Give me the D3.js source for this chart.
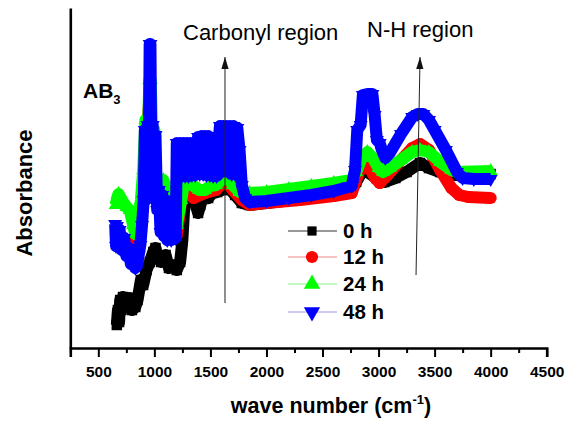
<!DOCTYPE html>
<html><head><meta charset="utf-8">
<script src="https://cdn.jsdelivr.net/npm/d3@7/dist/d3.min.js"></script>
<style>
body{margin:0;background:#fff}
svg{display:block}
text{font-family:"Liberation Sans",Arial,Helvetica,sans-serif}
</style>
</head><body>
<svg id="chart" width="570" height="423"></svg>
<script>
// ---------------- data ----------------
const seriesNames = ["0 h", "12 h", "24 h", "48 h"];
const xMajorTicks = [500, 1000, 1500, 2000, 2500, 3000, 3500, 4000, 4500];
const xMinorTicks = [250, 750, 1250, 1750, 2250, 2750, 3250, 3750, 4250];

const wn0h = [665,675,685,695,705,720,750,780,800,830,850,880,900,930,960,990,1010,1030,1060,1100,1130,1160,1200,1230,1250,1270,1290,1330,1370,1390,1410,1440,1480,1520,1560,1600,1640,1680,1720,1780,1850,2000,2300,2600,2760,2800,2850,2900,2980,3050,3150,3250,3370,3450,3550,3680,4000];
const abs0h = [0.23,0.38,0.26,0.48,0.38,0.51,0.43,0.50,0.38,0.41,0.48,0.68,0.63,0.78,0.86,0.96,1.00,0.90,0.86,0.93,0.80,0.83,0.78,0.86,1.08,1.48,1.58,1.53,1.43,1.35,1.43,1.53,1.50,1.55,1.56,1.58,1.60,1.58,1.53,1.45,1.43,1.45,1.49,1.54,1.58,1.66,1.76,1.76,1.70,1.66,1.70,1.76,1.85,1.80,1.76,1.73,1.74];

const wn12h = [670,685,700,750,800,830,860,900,930,960,980,1010,1050,1100,1150,1200,1240,1270,1350,1450,1550,1630,1700,1780,1850,2000,2300,2600,2760,2800,2840,2880,2920,2970,3010,3080,3200,3300,3370,3450,3550,3650,3720,3800,4000];
const abs12h = [1.16,1.10,1.08,0.98,0.90,1.08,0.98,1.48,2.08,2.58,1.98,1.68,1.48,1.43,1.18,1.13,1.48,1.58,1.50,1.55,1.58,1.68,1.58,1.48,1.43,1.45,1.48,1.52,1.55,1.68,1.80,1.86,1.80,1.70,1.65,1.73,1.88,2.00,2.04,1.98,1.78,1.60,1.53,1.51,1.50];

const wn24h = [655,668,680,710,750,780,810,830,850,880,900,920,940,955,968,980,1000,1015,1040,1080,1110,1150,1200,1240,1270,1300,1350,1400,1450,1500,1550,1600,1630,1660,1700,1760,1850,2000,2200,2400,2600,2760,2800,2850,2900,2950,3000,3040,3100,3200,3300,3370,3450,3550,3650,3700,4000];
const abs24h = [1.43,1.50,1.54,1.48,1.41,1.38,1.23,1.14,1.23,1.48,1.78,2.28,1.98,2.68,2.68,2.08,2.18,1.48,1.58,1.68,1.58,1.33,1.23,1.48,1.68,1.65,1.62,1.58,1.58,1.62,1.63,1.68,1.76,1.70,1.63,1.56,1.55,1.56,1.59,1.62,1.65,1.68,1.76,1.90,1.96,1.90,1.80,1.76,1.80,1.88,1.96,1.98,1.96,1.86,1.78,1.76,1.77];

const wn48h = [650,658,666,674,690,710,730,750,770,790,810,830,845,860,875,890,905,915,925,940,950,958,965,972,985,998,1010,1025,1040,1055,1070,1085,1100,1115,1130,1150,1170,1190,1200,1215,1230,1245,1260,1275,1290,1305,1320,1335,1350,1365,1380,1390,1405,1420,1435,1450,1465,1480,1495,1510,1525,1540,1555,1570,1585,1600,1615,1630,1645,1660,1675,1690,1705,1720,1740,1760,1780,1810,1850,2000,2200,2400,2600,2760,2790,2810,2840,2860,2900,2945,2965,2985,3010,3030,3060,3100,3200,3300,3350,3400,3450,3500,3600,3700,3750,3850,4000];
const abs48h = [1.24,1.02,1.22,1.04,1.18,0.98,1.10,0.92,1.00,0.84,0.92,0.80,0.82,0.93,1.03,1.23,1.48,2.18,1.48,2.23,1.88,3.04,3.04,1.98,2.23,1.58,2.13,1.38,1.58,1.16,1.53,1.12,1.48,1.08,1.43,1.08,1.33,1.10,2.05,1.74,2.05,1.72,2.05,1.72,2.05,1.72,2.05,1.73,2.05,1.73,2.05,2.11,1.74,2.12,1.74,2.12,1.73,2.12,1.73,2.08,1.72,2.04,1.72,2.04,2.22,1.76,2.22,1.80,2.22,1.76,2.22,1.74,2.22,1.74,2.20,1.98,1.63,1.50,1.46,1.47,1.50,1.53,1.57,1.62,1.78,2.18,2.23,2.53,2.54,2.54,2.33,2.08,2.05,1.98,1.90,1.95,2.14,2.31,2.34,2.34,2.28,2.18,1.98,1.76,1.70,1.69,1.69];

const arrowWavenumbers = [1630, 3370];
const arrowBottoms = [0.45, 0.73];
const annotationLabels = ["Carbonyl region", "N-H region"];

// ---------------- styles ----------------
const colors = ["#000000", "#ff0000", "#00ff00", "#0000ff"];
const legendLineColors = ["#333333", "#ee8888", "#88ee88", "#9999ee"];
const symbolTypes = [d3.symbolSquare, d3.symbolCircle, d3.symbolTriangle, d3.symbolTriangle];
const symbolRot = [0, 0, 0, 180];
const symbolSizes = [110, 115, 85, 85];

const svg = d3.select("#chart");
const x = d3.scaleLinear().domain([250, 4500]).range([70.3, 546.7]);
const y = d3.scaleLinear().domain([0, 3.4]).range([348, 8]);

const allSeries = [
  {wn: wn0h, ab: abs0h},
  {wn: wn12h, ab: abs12h},
  {wn: wn24h, ab: abs24h},
  {wn: wn48h, ab: abs48h}
];

const line = d3.line().x(d => x(d[0])).y(d => y(d[1]));

allSeries.forEach((s, i) => {
  const pts = s.wn.map((w, k) => [w, s.ab[k]]);
  const g = svg.append("g");
  g.append("path").datum(pts)
    .attr("d", line)
    .attr("fill", "none")
    .attr("stroke", colors[i])
    .attr("stroke-width", 12)
    .attr("stroke-linejoin", "round")
    .attr("stroke-linecap", "butt");
  const sym = d3.symbol().type(symbolTypes[i]).size(symbolSizes[i]);
  g.selectAll("path.m").data(pts).join("path")
    .attr("class", "m")
    .attr("d", sym)
    .attr("fill", colors[i])
    .attr("transform", d => `translate(${x(d[0])},${y(d[1])}) rotate(${symbolRot[i]})`);
});

// ---------------- axes ----------------
const xAxis = svg.append("g").attr("transform", "translate(0,348)")
  .call(d3.axisBottom(x).tickValues(xMajorTicks).tickSize(9).tickPadding(8.5).tickFormat(d3.format("d")));
xAxis.select(".domain").attr("stroke", "#000").attr("stroke-width", 2.6);
xAxis.selectAll(".tick line").attr("stroke", "#000").attr("stroke-width", 2);
xAxis.selectAll(".tick text")
  .attr("font-size", 15.5).attr("font-weight", "bold").attr("fill", "#000")
  .attr("font-family", "'Liberation Sans', Arial, sans-serif");

const xMinor = svg.append("g").attr("transform", "translate(0,348)")
  .call(d3.axisBottom(x).tickValues(xMinorTicks).tickSize(5).tickFormat(""));
xMinor.select(".domain").remove();
xMinor.selectAll(".tick line").attr("stroke", "#000").attr("stroke-width", 2);

const yAxis = svg.append("g").attr("transform", "translate(70.3,0)")
  .call(d3.axisLeft(y).tickValues([]).tickSizeOuter(0));
yAxis.select(".domain").attr("stroke", "#000").attr("stroke-width", 2.6);

// axis titles
const xt = svg.append("text")
  .attr("x", 331).attr("y", 413)
  .attr("text-anchor", "middle")
  .attr("font-size", 21.5).attr("font-weight", "bold");
xt.append("tspan").text("wave number (cm");
xt.append("tspan").attr("font-size", 13).attr("dy", -9).text("-1");
xt.append("tspan").attr("dy", 9).text(")");

svg.append("text")
  .attr("transform", "translate(32,193) rotate(-90)")
  .attr("text-anchor", "middle")
  .attr("font-size", 22).attr("font-weight", "bold")
  .text("Absorbance");

// AB3 label
const ab = svg.append("text").attr("x", 83).attr("y", 98)
  .attr("font-size", 21).attr("font-weight", "bold");
ab.append("tspan").text("AB");
ab.append("tspan").attr("font-size", 13).attr("dy", 6).text("3");

// annotation arrows
svg.append("defs").append("marker")
  .attr("id", "ah").attr("viewBox", "0 0 10 10")
  .attr("refX", 10).attr("refY", 5)
  .attr("markerWidth", 12).attr("markerHeight", 12)
  .attr("markerUnits", "userSpaceOnUse")
  .attr("orient", "auto")
  .append("path").attr("d", "M0,2 L10,5 L0,8 Z").attr("fill", "#111");

arrowWavenumbers.forEach((w, i) => {
  svg.append("line")
    .attr("x1", x(w) + (i === 1 ? -4 : 0)).attr("y1", y(arrowBottoms[i]))
    .attr("x2", x(w)).attr("y2", 57)
    .attr("stroke", "#222").attr("stroke-width", 1)
    .attr("marker-end", "url(#ah)");
});
svg.append("text").attr("x", 183).attr("y", 40)
  .attr("font-size", 22).text(annotationLabels[0]);
svg.append("text").attr("x", 367).attr("y", 37)
  .attr("font-size", 22).text(annotationLabels[1]);

// legend
const legY = [231, 257, 284, 312];
seriesNames.forEach((n, i) => {
  const g = svg.append("g");
  g.append("line").attr("x1", 288).attr("x2", 337)
    .attr("y1", legY[i]).attr("y2", legY[i])
    .attr("stroke", legendLineColors[i]).attr("stroke-width", 1.2);
  g.append("path")
    .attr("d", d3.symbol().type(symbolTypes[i]).size(i === 0 ? 85 : 115)())
    .attr("fill", colors[i])
    .attr("transform", `translate(312,${legY[i]}) rotate(${symbolRot[i]})`);
  g.append("text").attr("x", 343).attr("y", legY[i] + 7)
    .attr("font-size", 20.5).attr("font-weight", "bold").text(n);
});
</script>
</body></html>
